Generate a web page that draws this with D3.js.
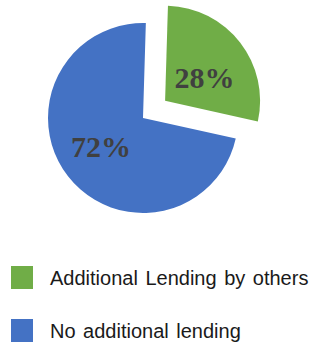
<!DOCTYPE html>
<html>
<head>
<meta charset="utf-8">
<script src="https://cdn.jsdelivr.net/npm/d3@7"></script>
<style>
  body { margin: 0; background: #fff; }
  svg { display: block; }
</style>
</head>
<body>
<div id="chart"></div>
<script>
const categories = ['Additional Lending by others', 'No additional lending']
const values = [28, 72]
const colorsList = ['#70AD47', '#4472C4']

const render = () => {
  const width = 311
  const height = 346
  const cx = 143
  const cy = 118
  const radius = 95
  const explode = 28
  const startAngle = 0.03

  const svg = d3
    .select('#chart')
    .append('svg')
    .attr('width', width)
    .attr('height', height)

  const color = d3.scaleOrdinal().domain(categories).range(colorsList)

  const pie = d3
    .pie()
    .sort(null)
    .startAngle(startAngle)
    .endAngle(startAngle + 2 * Math.PI)
    .value((d) => d.value)

  const data = categories.map((c, i) => ({ name: c, value: values[i] }))
  const arcs = pie(data)

  const arc = d3.arc().innerRadius(0).outerRadius(radius)

  const mid = (d) => (d.startAngle + d.endAngle) / 2

  const offset = (d, i) => (i === 0 ? d3.pointRadial(mid(d), explode) : [0, 0])

  // label sits a bit clockwise of the slice middle, like the original
  const labelPos = (d, i) =>
    i === 0
      ? d3.pointRadial(mid(d) + 0.13, radius * 0.48)
      : d3.pointRadial(mid(d) + 0.05, radius * 0.54)

  const g = svg.append('g').attr('transform', `translate(${cx}, ${cy})`)

  const slices = g
    .selectAll('g.slice')
    .data(arcs)
    .enter()
    .append('g')
    .attr('class', 'slice')
    .attr('transform', (d, i) => `translate(${offset(d, i).join(',')})`)

  slices
    .append('path')
    .attr('d', arc)
    .attr('fill', (d) => color(d.data.name))

  slices
    .append('text')
    .attr('x', (d, i) => labelPos(d, i)[0])
    .attr('y', (d, i) => labelPos(d, i)[1] + 10)
    .attr('text-anchor', 'middle')
    .attr('font-family', '"Liberation Serif", "Times New Roman", serif')
    .attr('font-weight', 'bold')
    .attr('font-size', 30)
    .attr('fill', '#404040')
    .text((d) => `${d.data.value}%`)

  // Legend
  const legend = svg
    .append('g')
    .attr('transform', 'translate(11, 266)')

  const items = legend
    .selectAll('g')
    .data(categories)
    .enter()
    .append('g')
    .attr('transform', (d, i) => `translate(0, ${i * 53})`)

  items
    .append('rect')
    .attr('width', 22)
    .attr('height', 23)
    .attr('fill', (d) => color(d))

  items
    .append('text')
    .attr('x', 39)
    .attr('y', 19)
    .attr('font-family', '"Liberation Sans", Arial, sans-serif')
    .attr('font-size', 20)
    .attr('word-spacing', 2)
    .attr('fill', '#1a1a1a')
    .text((d) => d)
}

render()
</script>
</body>
</html>
